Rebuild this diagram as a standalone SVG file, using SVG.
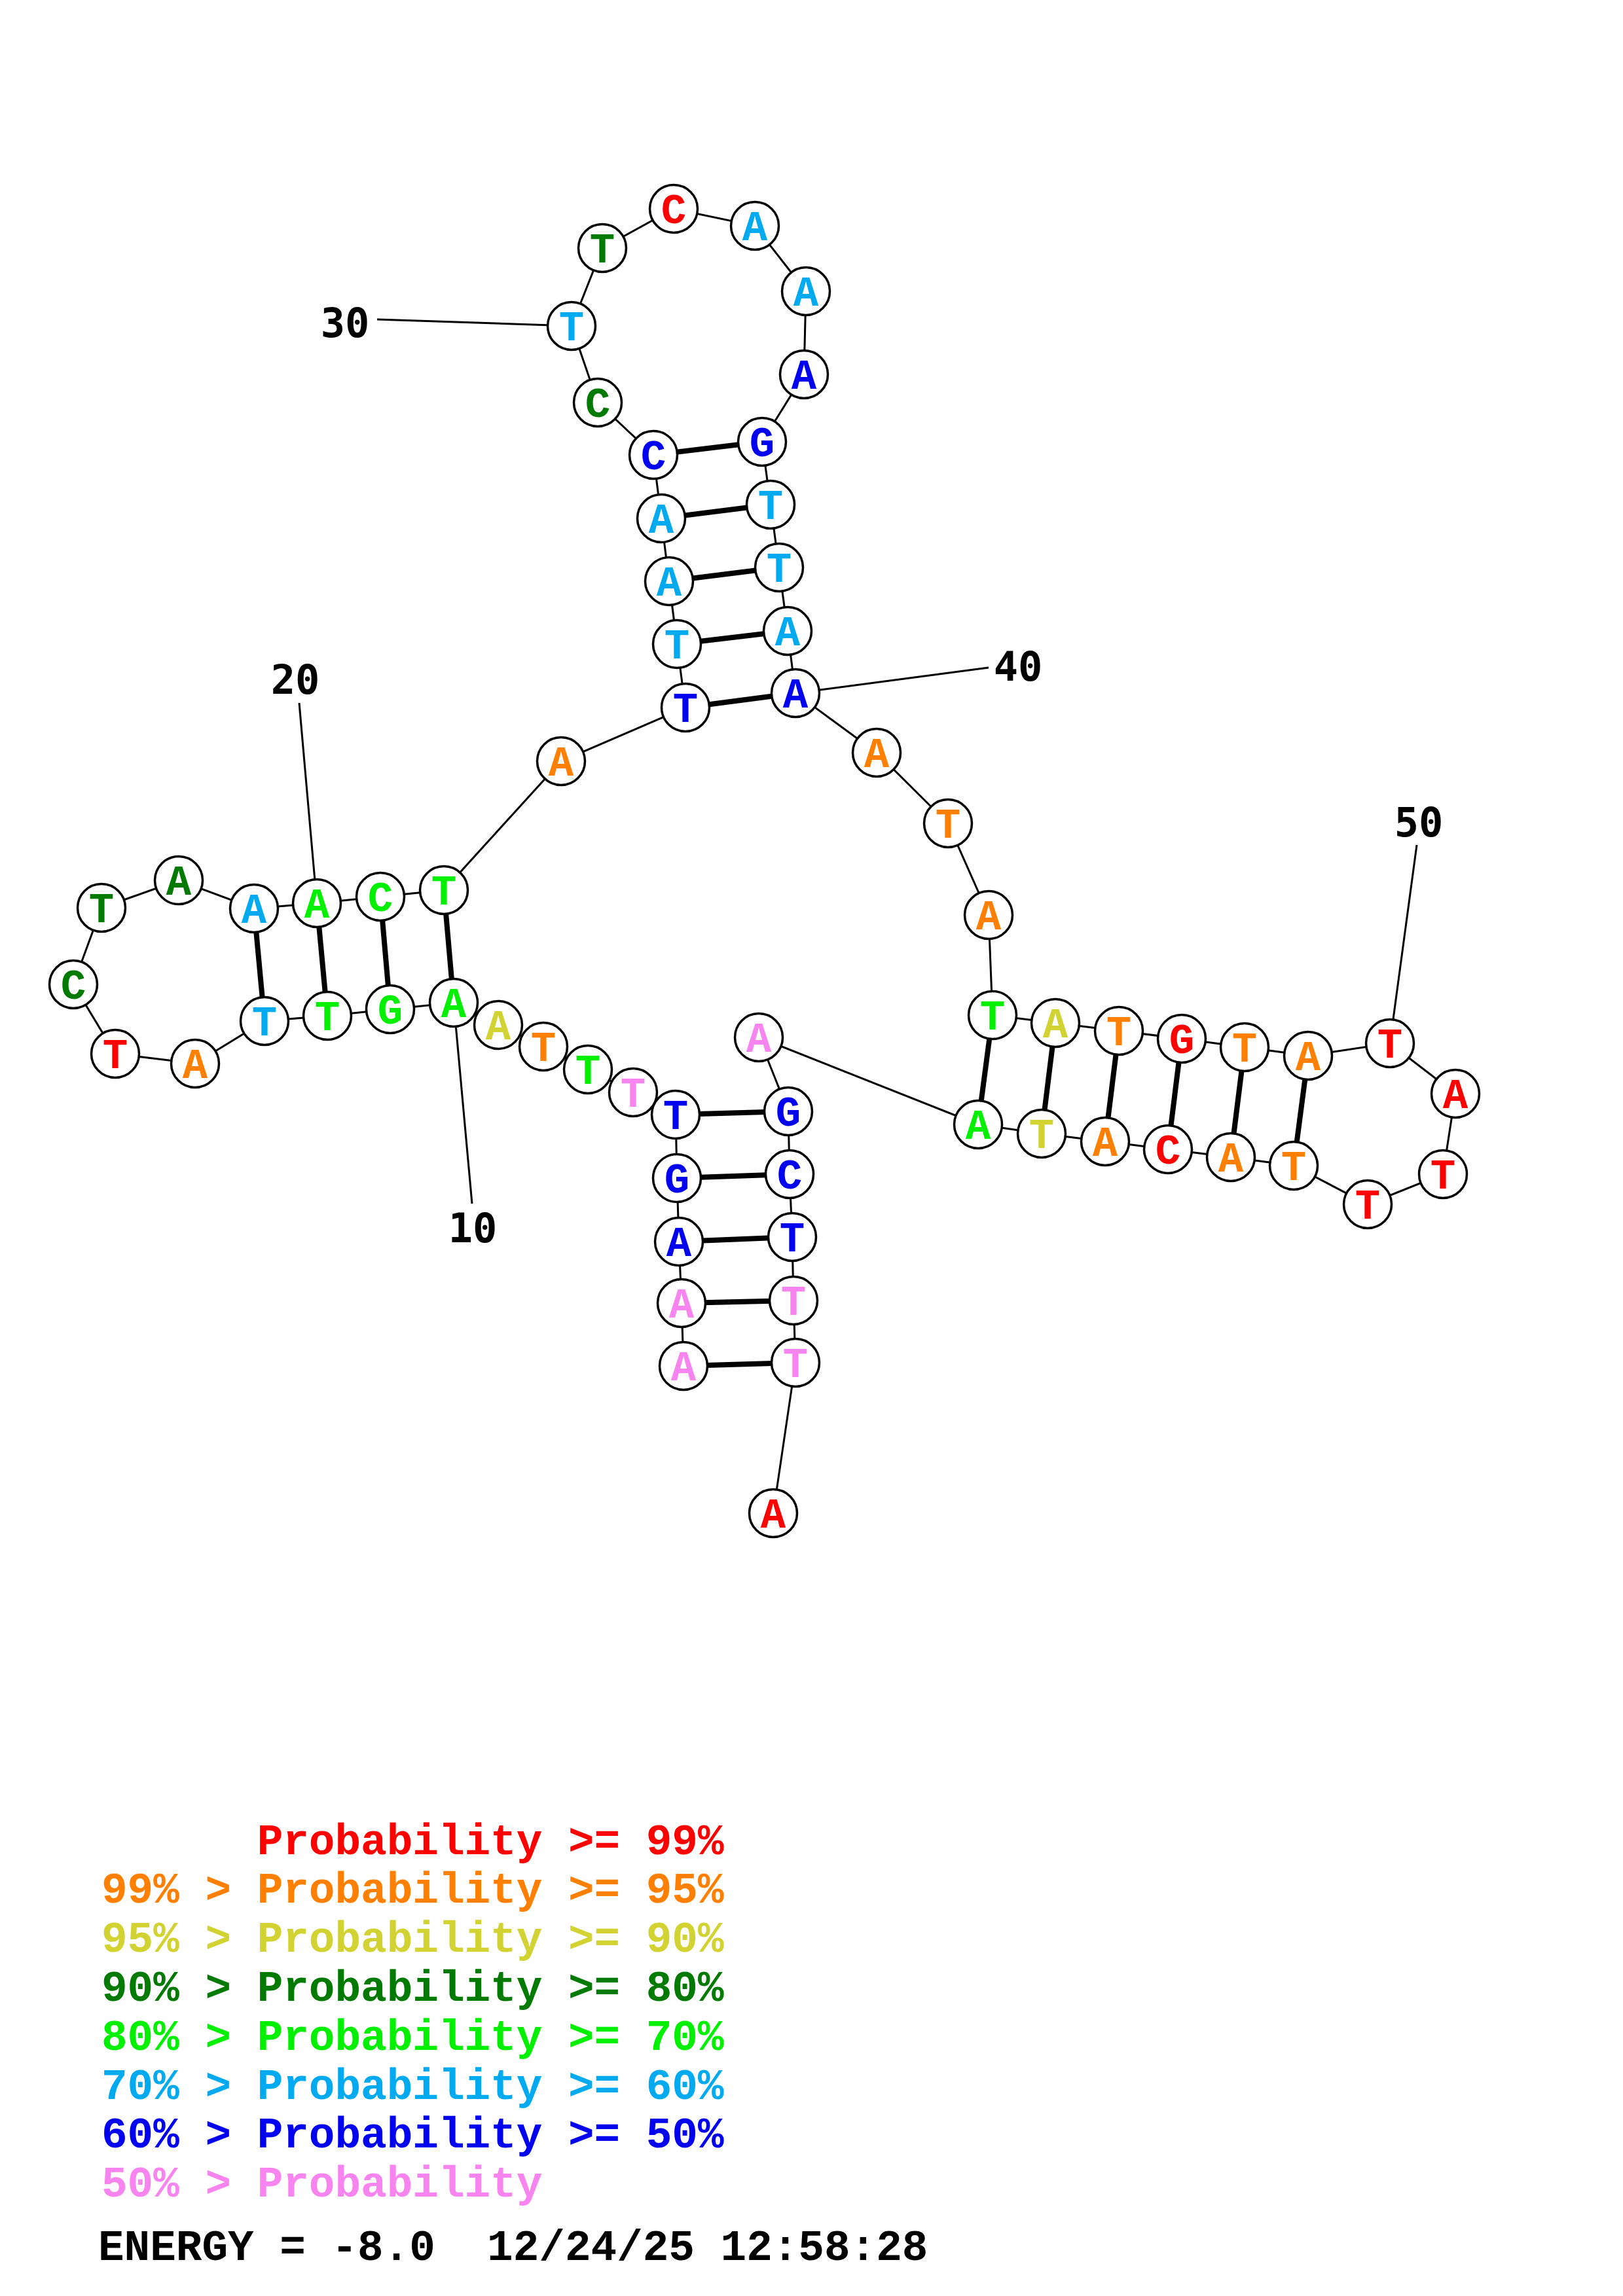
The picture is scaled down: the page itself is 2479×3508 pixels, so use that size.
<svg xmlns="http://www.w3.org/2000/svg" width="2479" height="3508" viewBox="0 0 2479 3508">
<style>
.bg{fill:#fff}
.nd{fill:#fff;stroke:#000;stroke-width:3.5}
.bb{stroke:#000;stroke-width:3;fill:none}
.bp{stroke:#000;stroke-width:8;fill:none}
.lb{stroke:#000;stroke-width:3;fill:none}
.b{font-family:"Liberation Mono","Courier New",monospace;font-weight:bold;font-size:64px;text-anchor:middle}
.num{font-family:"DejaVu Sans Mono",monospace;font-weight:bold;font-size:62px;fill:#000}
.leg{font-family:"Liberation Mono","Courier New",monospace;font-weight:bold;font-size:66px}
.r{fill:#ff0000}.o{fill:#ff8000}.y{fill:#d2d232}.dg{fill:#007a00}.g{fill:#00f000}.l{fill:#00aaf0}.u{fill:#0000f0}.p{fill:#f884f0}.k{fill:#000}
</style>
<rect class="bg" x="0" y="0" width="2479" height="3508"/>
<g id="connectors">
<polyline class="bb" points="1044,2087 1041,1991 1037,1897 1034,1800 1032,1703 967,1669 898,1634 830,1599 761,1566 693,1532 596,1542 500,1552 404,1560 298,1625 176,1610 112,1504 155,1387 273,1345 388,1388 484,1380 581,1370 678,1360 857,1163 1047,1081 1034,984 1022,888 1010,792 998,695 913,615 873,498 920,379 1029,319 1153,345 1231,445 1228,572 1164,675 1177,771 1190,867 1203,964 1215,1059 1339,1150 1448,1258 1510,1398 1516,1551 1612,1563 1709,1575 1805,1587 1901,1600 1998,1613 2123,1594 2223,1671 2204,1794 2089,1840 1976,1781 1880,1768 1784,1756 1688,1744 1591,1732 1494,1718 1159,1585 1204,1698 1206,1794 1210,1890 1212,1987 1215,2082 1181,2312"/>
<line class="bp" x1="1044" y1="2087" x2="1215" y2="2082"/>
<line class="bp" x1="1041" y1="1991" x2="1212" y2="1987"/>
<line class="bp" x1="1037" y1="1897" x2="1210" y2="1890"/>
<line class="bp" x1="1034" y1="1800" x2="1206" y2="1794"/>
<line class="bp" x1="1032" y1="1703" x2="1204" y2="1698"/>
<line class="bp" x1="693" y1="1532" x2="678" y2="1360"/>
<line class="bp" x1="596" y1="1542" x2="581" y2="1370"/>
<line class="bp" x1="500" y1="1552" x2="484" y2="1380"/>
<line class="bp" x1="404" y1="1560" x2="388" y2="1388"/>
<line class="bp" x1="1047" y1="1081" x2="1215" y2="1059"/>
<line class="bp" x1="1034" y1="984" x2="1203" y2="964"/>
<line class="bp" x1="1022" y1="888" x2="1190" y2="867"/>
<line class="bp" x1="1010" y1="792" x2="1177" y2="771"/>
<line class="bp" x1="998" y1="695" x2="1164" y2="675"/>
<line class="bp" x1="1516" y1="1551" x2="1494" y2="1718"/>
<line class="bp" x1="1612" y1="1563" x2="1591" y2="1732"/>
<line class="bp" x1="1709" y1="1575" x2="1688" y2="1744"/>
<line class="bp" x1="1805" y1="1587" x2="1784" y2="1756"/>
<line class="bp" x1="1901" y1="1600" x2="1880" y2="1768"/>
<line class="bp" x1="1998" y1="1613" x2="1976" y2="1781"/>
<line class="lb" x1="693" y1="1532" x2="721" y2="1839"/>
<line class="lb" x1="484" y1="1380" x2="457" y2="1074"/>
<line class="lb" x1="873" y1="498" x2="576" y2="488"/>
<line class="lb" x1="1215" y1="1059" x2="1510" y2="1020"/>
<line class="lb" x1="2123" y1="1594" x2="2164" y2="1291"/>
</g>
<g id="n1"><circle class="nd" cx="1044" cy="2087" r="36.5"/><text class="b p" x="1044" y="2109">A</text></g>
<g id="n2"><circle class="nd" cx="1041" cy="1991" r="36.5"/><text class="b p" x="1041" y="2013">A</text></g>
<g id="n3"><circle class="nd" cx="1037" cy="1897" r="36.5"/><text class="b u" x="1037" y="1919">A</text></g>
<g id="n4"><circle class="nd" cx="1034" cy="1800" r="36.5"/><text class="b u" x="1034" y="1822">G</text></g>
<g id="n5"><circle class="nd" cx="1032" cy="1703" r="36.5"/><text class="b u" x="1032" y="1725">T</text></g>
<g id="n6"><circle class="nd" cx="967" cy="1669" r="36.5"/><text class="b p" x="967" y="1691">T</text></g>
<g id="n7"><circle class="nd" cx="898" cy="1634" r="36.5"/><text class="b g" x="898" y="1656">T</text></g>
<g id="n8"><circle class="nd" cx="830" cy="1599" r="36.5"/><text class="b o" x="830" y="1621">T</text></g>
<g id="n9"><circle class="nd" cx="761" cy="1566" r="36.5"/><text class="b y" x="761" y="1588">A</text></g>
<g id="n10"><circle class="nd" cx="693" cy="1532" r="36.5"/><text class="b g" x="693" y="1554">A</text></g>
<g id="n11"><circle class="nd" cx="596" cy="1542" r="36.5"/><text class="b g" x="596" y="1564">G</text></g>
<g id="n12"><circle class="nd" cx="500" cy="1552" r="36.5"/><text class="b g" x="500" y="1574">T</text></g>
<g id="n13"><circle class="nd" cx="404" cy="1560" r="36.5"/><text class="b l" x="404" y="1582">T</text></g>
<g id="n14"><circle class="nd" cx="298" cy="1625" r="36.5"/><text class="b o" x="298" y="1647">A</text></g>
<g id="n15"><circle class="nd" cx="176" cy="1610" r="36.5"/><text class="b r" x="176" y="1632">T</text></g>
<g id="n16"><circle class="nd" cx="112" cy="1504" r="36.5"/><text class="b dg" x="112" y="1526">C</text></g>
<g id="n17"><circle class="nd" cx="155" cy="1387" r="36.5"/><text class="b dg" x="155" y="1409">T</text></g>
<g id="n18"><circle class="nd" cx="273" cy="1345" r="36.5"/><text class="b dg" x="273" y="1367">A</text></g>
<g id="n19"><circle class="nd" cx="388" cy="1388" r="36.5"/><text class="b l" x="388" y="1410">A</text></g>
<g id="n20"><circle class="nd" cx="484" cy="1380" r="36.5"/><text class="b g" x="484" y="1402">A</text></g>
<g id="n21"><circle class="nd" cx="581" cy="1370" r="36.5"/><text class="b g" x="581" y="1392">C</text></g>
<g id="n22"><circle class="nd" cx="678" cy="1360" r="36.5"/><text class="b g" x="678" y="1382">T</text></g>
<g id="n23"><circle class="nd" cx="857" cy="1163" r="36.5"/><text class="b o" x="857" y="1185">A</text></g>
<g id="n24"><circle class="nd" cx="1047" cy="1081" r="36.5"/><text class="b u" x="1047" y="1103">T</text></g>
<g id="n25"><circle class="nd" cx="1034" cy="984" r="36.5"/><text class="b l" x="1034" y="1006">T</text></g>
<g id="n26"><circle class="nd" cx="1022" cy="888" r="36.5"/><text class="b l" x="1022" y="910">A</text></g>
<g id="n27"><circle class="nd" cx="1010" cy="792" r="36.5"/><text class="b l" x="1010" y="814">A</text></g>
<g id="n28"><circle class="nd" cx="998" cy="695" r="36.5"/><text class="b u" x="998" y="717">C</text></g>
<g id="n29"><circle class="nd" cx="913" cy="615" r="36.5"/><text class="b dg" x="913" y="637">C</text></g>
<g id="n30"><circle class="nd" cx="873" cy="498" r="36.5"/><text class="b l" x="873" y="520">T</text></g>
<g id="n31"><circle class="nd" cx="920" cy="379" r="36.5"/><text class="b dg" x="920" y="401">T</text></g>
<g id="n32"><circle class="nd" cx="1029" cy="319" r="36.5"/><text class="b r" x="1029" y="341">C</text></g>
<g id="n33"><circle class="nd" cx="1153" cy="345" r="36.5"/><text class="b l" x="1153" y="367">A</text></g>
<g id="n34"><circle class="nd" cx="1231" cy="445" r="36.5"/><text class="b l" x="1231" y="467">A</text></g>
<g id="n35"><circle class="nd" cx="1228" cy="572" r="36.5"/><text class="b u" x="1228" y="594">A</text></g>
<g id="n36"><circle class="nd" cx="1164" cy="675" r="36.5"/><text class="b u" x="1164" y="697">G</text></g>
<g id="n37"><circle class="nd" cx="1177" cy="771" r="36.5"/><text class="b l" x="1177" y="793">T</text></g>
<g id="n38"><circle class="nd" cx="1190" cy="867" r="36.5"/><text class="b l" x="1190" y="889">T</text></g>
<g id="n39"><circle class="nd" cx="1203" cy="964" r="36.5"/><text class="b l" x="1203" y="986">A</text></g>
<g id="n40"><circle class="nd" cx="1215" cy="1059" r="36.5"/><text class="b u" x="1215" y="1081">A</text></g>
<g id="n41"><circle class="nd" cx="1339" cy="1150" r="36.5"/><text class="b o" x="1339" y="1172">A</text></g>
<g id="n42"><circle class="nd" cx="1448" cy="1258" r="36.5"/><text class="b o" x="1448" y="1280">T</text></g>
<g id="n43"><circle class="nd" cx="1510" cy="1398" r="36.5"/><text class="b o" x="1510" y="1420">A</text></g>
<g id="n44"><circle class="nd" cx="1516" cy="1551" r="36.5"/><text class="b g" x="1516" y="1573">T</text></g>
<g id="n45"><circle class="nd" cx="1612" cy="1563" r="36.5"/><text class="b y" x="1612" y="1585">A</text></g>
<g id="n46"><circle class="nd" cx="1709" cy="1575" r="36.5"/><text class="b o" x="1709" y="1597">T</text></g>
<g id="n47"><circle class="nd" cx="1805" cy="1587" r="36.5"/><text class="b r" x="1805" y="1609">G</text></g>
<g id="n48"><circle class="nd" cx="1901" cy="1600" r="36.5"/><text class="b o" x="1901" y="1622">T</text></g>
<g id="n49"><circle class="nd" cx="1998" cy="1613" r="36.5"/><text class="b o" x="1998" y="1635">A</text></g>
<g id="n50"><circle class="nd" cx="2123" cy="1594" r="36.5"/><text class="b r" x="2123" y="1616">T</text></g>
<g id="n51"><circle class="nd" cx="2223" cy="1671" r="36.5"/><text class="b r" x="2223" y="1693">A</text></g>
<g id="n52"><circle class="nd" cx="2204" cy="1794" r="36.5"/><text class="b r" x="2204" y="1816">T</text></g>
<g id="n53"><circle class="nd" cx="2089" cy="1840" r="36.5"/><text class="b r" x="2089" y="1862">T</text></g>
<g id="n54"><circle class="nd" cx="1976" cy="1781" r="36.5"/><text class="b o" x="1976" y="1803">T</text></g>
<g id="n55"><circle class="nd" cx="1880" cy="1768" r="36.5"/><text class="b o" x="1880" y="1790">A</text></g>
<g id="n56"><circle class="nd" cx="1784" cy="1756" r="36.5"/><text class="b r" x="1784" y="1778">C</text></g>
<g id="n57"><circle class="nd" cx="1688" cy="1744" r="36.5"/><text class="b o" x="1688" y="1766">A</text></g>
<g id="n58"><circle class="nd" cx="1591" cy="1732" r="36.5"/><text class="b y" x="1591" y="1754">T</text></g>
<g id="n59"><circle class="nd" cx="1494" cy="1718" r="36.5"/><text class="b g" x="1494" y="1740">A</text></g>
<g id="n60"><circle class="nd" cx="1159" cy="1585" r="36.5"/><text class="b p" x="1159" y="1607">A</text></g>
<g id="n61"><circle class="nd" cx="1204" cy="1698" r="36.5"/><text class="b u" x="1204" y="1720">G</text></g>
<g id="n62"><circle class="nd" cx="1206" cy="1794" r="36.5"/><text class="b u" x="1206" y="1816">C</text></g>
<g id="n63"><circle class="nd" cx="1210" cy="1890" r="36.5"/><text class="b u" x="1210" y="1912">T</text></g>
<g id="n64"><circle class="nd" cx="1212" cy="1987" r="36.5"/><text class="b p" x="1212" y="2009">T</text></g>
<g id="n65"><circle class="nd" cx="1215" cy="2082" r="36.5"/><text class="b p" x="1215" y="2104">T</text></g>
<g id="n66"><circle class="nd" cx="1181" cy="2312" r="36.5"/><text class="b r" x="1181" y="2334">A</text></g>
<g id="labels">
<text class="num" x="722" y="1898" text-anchor="middle">10</text>
<text class="num" x="451" y="1060" text-anchor="middle">20</text>
<text class="num" x="527" y="515" text-anchor="middle">30</text>
<text class="num" x="1555" y="1040" text-anchor="middle">40</text>
<text class="num" x="2167" y="1278" text-anchor="middle">50</text>
</g>
<g id="legend">
<text class="leg r" x="155" y="2833" xml:space="preserve">      Probability &gt;= 99%</text>
<text class="leg o" x="155" y="2907" xml:space="preserve">99% &gt; Probability &gt;= 95%</text>
<text class="leg y" x="155" y="2982" xml:space="preserve">95% &gt; Probability &gt;= 90%</text>
<text class="leg dg" x="155" y="3057" xml:space="preserve">90% &gt; Probability &gt;= 80%</text>
<text class="leg g" x="155" y="3132" xml:space="preserve">80% &gt; Probability &gt;= 70%</text>
<text class="leg l" x="155" y="3207" xml:space="preserve">70% &gt; Probability &gt;= 60%</text>
<text class="leg u" x="155" y="3281" xml:space="preserve">60% &gt; Probability &gt;= 50%</text>
<text class="leg p" x="155" y="3356" xml:space="preserve">50% &gt; Probability</text>
<text class="leg k" x="150" y="3453" xml:space="preserve">ENERGY = -8.0  12/24/25 12:58:28</text>
</g>
</svg>
